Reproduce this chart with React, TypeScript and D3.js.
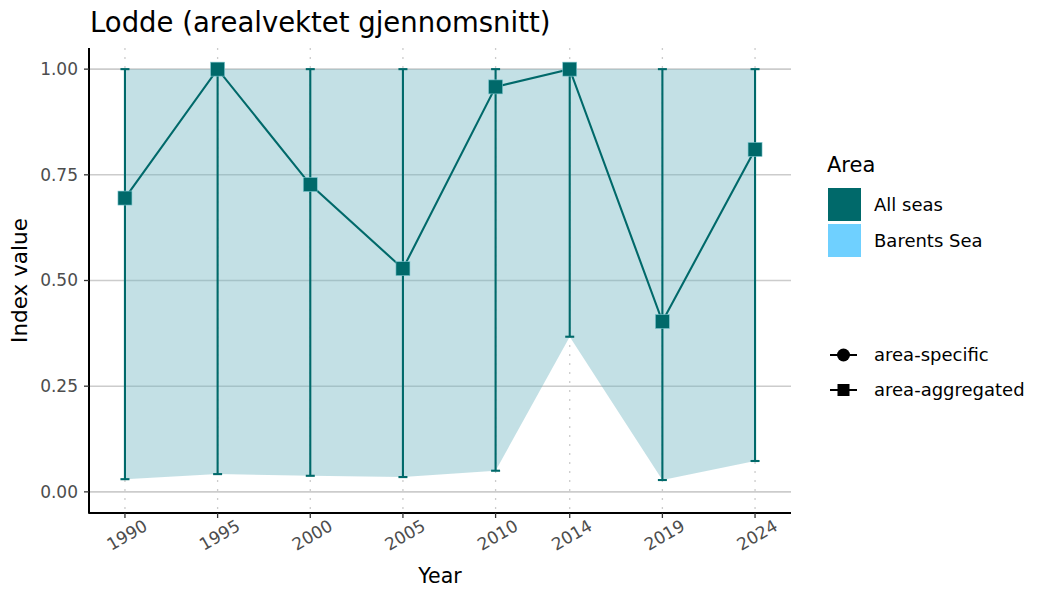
import { useEffect, useRef } from 'react'
import * as d3 from 'd3'

const years = [1990, 1995, 2000, 2005, 2010, 2014, 2019, 2024]
const indexValue = [0.695, 1.0, 0.727, 0.528, 0.958, 1.0, 0.403, 0.81]
const lowerCI = [0.03, 0.042, 0.038, 0.035, 0.05, 0.367, 0.028, 0.073]
const upperCI = [1.0, 1.0, 1.0, 1.0, 1.0, 1.0, 1.0, 1.0]
const yTicks = [0, 0.25, 0.5, 0.75, 1.0]
const areaNames = ['All seas', 'Barents Sea']
const areaColors = ['#00696a', '#6fd0ff']
const shapeNames = ['area-specific', 'area-aggregated']

const W = 1050
const H = 600
const P = { left: 89, right: 791, top: 48, bottom: 513 }
const FONT = 'DejaVu Sans, sans-serif'
const TEAL = '#00696a'

export default function App() {
  const svgRef = useRef<SVGSVGElement>(null)

  useEffect(() => {
    if (!svgRef.current) return
    const svg = d3.select(svgRef.current)
    svg.selectAll('*').remove()

    const x = d3.scaleLinear().domain([1988.06, 2025.94]).range([P.left, P.right])
    const y = d3.scaleLinear().domain([-0.05, 1.05]).range([P.bottom, P.top])

    const rows = years.map((yr, i) => ({ yr, v: indexValue[i], lo: lowerCI[i], hi: upperCI[i] }))

    // Grid
    svg.append('g').selectAll('line').data(years).join('line')
      .attr('x1', d => x(d)).attr('x2', d => x(d))
      .attr('y1', P.top).attr('y2', P.bottom)
      .attr('stroke', '#cccccc').attr('stroke-width', 1.3)
      .attr('stroke-dasharray', '2,7')
    svg.append('g').selectAll('line').data(yTicks).join('line')
      .attr('x1', P.left).attr('x2', P.right)
      .attr('y1', d => y(d)).attr('y2', d => y(d))
      .attr('stroke', '#cccccc').attr('stroke-width', 1.6)

    // Ribbon
    const area = d3.area<typeof rows[0]>()
      .x(d => x(d.yr)).y0(d => y(d.lo)).y1(d => y(d.hi))
    svg.append('path').datum(rows).attr('d', area)
      .attr('fill', '#6fb6c0').attr('fill-opacity', 0.42)

    // Error bars
    const eb = svg.append('g').attr('stroke', TEAL).attr('stroke-width', 2.1)
    rows.forEach(d => {
      const cx = x(d.yr)
      eb.append('line').attr('x1', cx).attr('x2', cx).attr('y1', y(d.lo)).attr('y2', y(d.hi))
      eb.append('line').attr('x1', cx - 4.5).attr('x2', cx + 4.5).attr('y1', y(d.lo)).attr('y2', y(d.lo))
      eb.append('line').attr('x1', cx - 4.5).attr('x2', cx + 4.5).attr('y1', y(d.hi)).attr('y2', y(d.hi))
    })

    // Line + points
    const line = d3.line<typeof rows[0]>().x(d => x(d.yr)).y(d => y(d.v))
    svg.append('path').datum(rows).attr('d', line)
      .attr('fill', 'none').attr('stroke', TEAL).attr('stroke-width', 2.1)
    svg.append('g').selectAll('rect').data(rows).join('rect')
      .attr('x', d => x(d.yr) - 7).attr('y', d => y(d.v) - 7)
      .attr('width', 14).attr('height', 14)
      .attr('fill', TEAL).attr('stroke', '#7fc7d0').attr('stroke-width', 0.6)

    // Axes
    const ax = svg.append('g').attr('font-family', FONT)
    ax.append('line').attr('x1', P.left).attr('x2', P.left).attr('y1', P.top).attr('y2', P.bottom + 0.5)
      .attr('stroke', '#000').attr('stroke-width', 2)
    ax.append('line').attr('x1', P.left - 0.5).attr('x2', P.right).attr('y1', P.bottom).attr('y2', P.bottom)
      .attr('stroke', '#000').attr('stroke-width', 2)
    yTicks.forEach(t => {
      ax.append('line').attr('x1', P.left - 5).attr('x2', P.left).attr('y1', y(t)).attr('y2', y(t))
        .attr('stroke', '#333').attr('stroke-width', 1.3)
      ax.append('text').attr('x', P.left - 11).attr('y', y(t)).attr('dy', '0.35em')
        .attr('text-anchor', 'end').attr('font-size', 17).attr('fill', '#4d4d4d')
        .text(d3.format('.2f')(t))
    })
    years.forEach(t => {
      ax.append('line').attr('x1', x(t)).attr('x2', x(t)).attr('y1', P.bottom).attr('y2', P.bottom + 5)
        .attr('stroke', '#333').attr('stroke-width', 1.3)
      ax.append('text')
        .attr('transform', `translate(${x(t) + 2},${P.bottom + 22}) rotate(-30)`)
        .attr('dy', '0.35em').attr('text-anchor', 'middle')
        .attr('font-size', 17).attr('fill', '#4d4d4d').text(String(t))
    })
    ax.append('text').attr('x', (P.left + P.right) / 2).attr('y', 583)
      .attr('text-anchor', 'middle').attr('font-size', 20.5).text('Year')
    ax.append('text').attr('transform', `translate(27,${(P.top + P.bottom) / 2}) rotate(-90)`)
      .attr('text-anchor', 'middle').attr('font-size', 21.5).text('Index value')

    // Title
    svg.append('text').attr('x', 90).attr('y', 32).attr('font-family', FONT)
      .attr('font-size', 27.5).text('Lodde (arealvektet gjennomsnitt)')

    // Legend
    const lg = svg.append('g').attr('font-family', FONT)
    lg.append('text').attr('x', 827).attr('y', 172).attr('font-size', 21).text('Area')
    areaNames.forEach((n, i) => {
      lg.append('rect').attr('x', 828).attr('y', 188 + i * 36).attr('width', 33).attr('height', 33)
        .attr('fill', areaColors[i])
      lg.append('text').attr('x', 874).attr('y', 204.5 + i * 36).attr('dy', '0.35em')
        .attr('font-size', 18).text(n)
    })
    shapeNames.forEach((n, i) => {
      const cy = 355 + i * 35
      lg.append('line').attr('x1', 830).attr('x2', 857).attr('y1', cy).attr('y2', cy)
        .attr('stroke', '#000').attr('stroke-width', 2)
      if (i === 0) lg.append('circle').attr('cx', 843.5).attr('cy', cy).attr('r', 6.5).attr('fill', '#000')
      else lg.append('rect').attr('x', 837.5).attr('y', cy - 6).attr('width', 12).attr('height', 12).attr('fill', '#000')
      lg.append('text').attr('x', 874).attr('y', cy).attr('dy', '0.35em').attr('font-size', 18).text(n)
    })
  }, [])

  return (
    <svg ref={svgRef} width={W} height={H}
      style={{ position: 'absolute', left: 0, top: 0, background: '#fff' }} />
  )
}
